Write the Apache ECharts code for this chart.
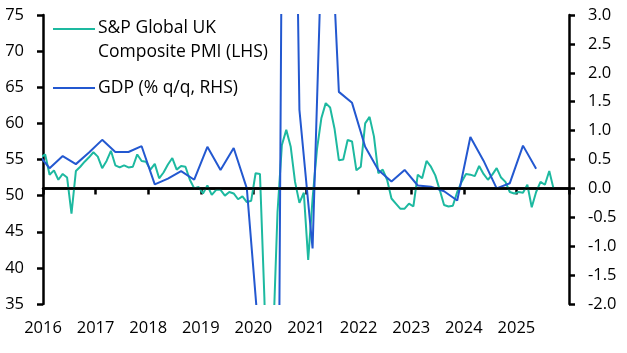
<!DOCTYPE html>
<html>
<head>
<meta charset="utf-8">
<script src="https://cdn.jsdelivr.net/npm/echarts@6/dist/echarts.min.js"></script>
<style>
  html, body { margin: 0; padding: 0; background: #fff; }
  #chart { width: 627px; height: 353px; }
</style>
</head>
<body>
<div id="chart"></div>
<script>
// PMI monthly, first value = Dec 2015
const pmiStartYear = 2015;
const pmiStartMonth = 12;
const pmiValues = [
  55.3,
  55.7, 52.9, 53.5, 52.2, 53.0, 52.5, 47.5, 53.4, 54.0, 54.7, 55.3, 56.0,
  55.4, 53.8, 54.8, 56.2, 54.2, 53.9, 54.2, 53.9, 54.0, 55.7, 54.8, 54.7,
  53.6, 54.4, 52.4, 53.2, 54.3, 55.2, 53.6, 54.1, 54.0, 52.2, 51.0, 51.2,
  50.3, 51.4, 50.1, 50.8, 50.8, 50.0, 50.5, 50.3, 49.5, 49.9, 49.1, 49.3,
  53.1, 53.0, 36.0, 13.8, 30.0, 47.7, 57.0, 59.1, 56.8, 51.9, 49.0, 50.4,
  41.1, 49.6, 56.4, 60.7, 62.8, 62.2, 59.3, 54.9, 55.0, 57.7, 57.5, 53.5,
  54.0, 60.0, 60.9, 58.2, 53.1, 53.6, 52.2, 49.6, 48.9, 48.2, 48.2, 48.9,
  48.5, 52.9, 52.4, 54.8, 54.0, 52.8, 50.8, 48.7, 48.5, 48.6, 50.5, 51.9,
  53.0, 52.9, 52.7, 54.1, 53.0, 52.2, 52.9, 53.8, 52.5, 51.9, 50.5, 50.3,
  50.5, 50.4, 51.5, 48.4, 50.5, 51.9, 51.5, 53.4, 50.9
];
// GDP quarterly % q/q, first value = Q4 2015
const gdpStartYear = 2015;
const gdpStartQuarter = 4;
const gdpValues = [
  0.63,
  0.35, 0.56, 0.42, 0.62,
  0.84, 0.63, 0.63, 0.73,
  0.07, 0.17, 0.30, 0.15,
  0.72, 0.32, 0.70, 0.00,
  -2.8, -19.4, 16.9, 1.36,
  -1.04, 6.5, 1.67, 1.48,
  0.72, 0.32, 0.12, 0.32,
  0.05, 0.03, -0.05, -0.21,
  0.89, 0.48, 0.00, 0.09,
  0.74, 0.34
];
const xTickYears = [2016, 2017, 2018, 2019, 2020, 2021, 2022, 2023, 2024, 2025];
const seriesNames = ['S&P Global UK\nComposite PMI (LHS)', 'GDP (% q/q, RHS)'];

// place monthly points mid-month, quarterly points mid-quarter
const pmiData = pmiValues.map((v, i) => {
  const m = pmiStartMonth - 1 + i;
  return [pmiStartYear + (m + 0.5) / 12, v];
});
const gdpData = gdpValues.map((v, i) => {
  const q = gdpStartQuarter - 1 + i;
  return [gdpStartYear + (q + 0.5) / 4, v];
});

const teal = '#1DB9A0';
const blue = '#2358D0';
const FONT = '"Open Sans", sans-serif';
const axisBlack = { show: true, lineStyle: { color: '#000', width: 2.5 } };

const chart = echarts.init(document.getElementById('chart'), null, { renderer: 'canvas' });
chart.setOption({
  animation: false,
  backgroundColor: '#fff',
  grid: { left: 43, right: 58, top: 15, bottom: 49, containLabel: false },
  xAxis: {
    type: 'value', min: 2016, max: 2026, interval: 1,
    axisLine: axisBlack,
    axisTick: { show: true, inside: false, length: 6, lineStyle: { color: '#000', width: 2.5 } },
    splitLine: { show: false },
    axisLabel: {
      margin: 16, color: '#000', fontSize: 16.5, fontFamily: FONT,
      formatter: v => xTickYears.indexOf(Math.round(v)) >= 0 ? String(Math.round(v)) : ''
    }
  },
  yAxis: [
    {
      type: 'value', min: 35, max: 75, interval: 5, position: 'left',
      axisLine: axisBlack,
      axisTick: { show: true, length: 6, lineStyle: { color: '#000', width: 2.5 } },
      splitLine: { show: false },
      axisLabel: { margin: 19, color: '#000', fontSize: 16.5, fontFamily: FONT }
    },
    {
      type: 'value', min: -2, max: 3, interval: 0.5, position: 'right',
      axisLine: axisBlack,
      axisTick: { show: true, length: 6, lineStyle: { color: '#000', width: 2.5 } },
      splitLine: { show: false },
      axisLabel: { margin: 19, color: '#000', fontSize: 16.5, fontFamily: FONT,
        formatter: v => v.toFixed(1) }
    }
  ],
  series: [
    {
      name: seriesNames[0], type: 'line', yAxisIndex: 0, data: pmiData,
      showSymbol: false, symbol: 'none', clip: true,
      lineStyle: { color: teal, width: 2 }, itemStyle: { color: teal }, z: 2
    },
    {
      name: seriesNames[1], type: 'line', yAxisIndex: 1, data: gdpData,
      showSymbol: false, symbol: 'none', clip: true,
      lineStyle: { color: blue, width: 2 }, itemStyle: { color: blue }, z: 3,
      markLine: {
        silent: true, symbol: 'none', label: { show: false },
        lineStyle: { color: '#000', width: 2.5, type: 'solid' },
        data: [{ yAxis: 0 }], z: 5
      }
    }
  ],
  graphic: [
    { type: 'line', shape: { x1: 53, y1: 29, x2: 95, y2: 29 }, style: { stroke: teal, lineWidth: 2 } },
    { type: 'text', left: 98, top: 16, style: { text: seriesNames[0], fill: '#000', font: '17.5px ' + FONT, lineHeight: 24 } },
    { type: 'line', shape: { x1: 53, y1: 88, x2: 95, y2: 88 }, style: { stroke: blue, lineWidth: 2 } },
    { type: 'text', left: 98, top: 76, style: { text: seriesNames[1], fill: '#000', font: '17.5px ' + FONT, lineHeight: 24 } }
  ]
});
</script>
</body>
</html>
